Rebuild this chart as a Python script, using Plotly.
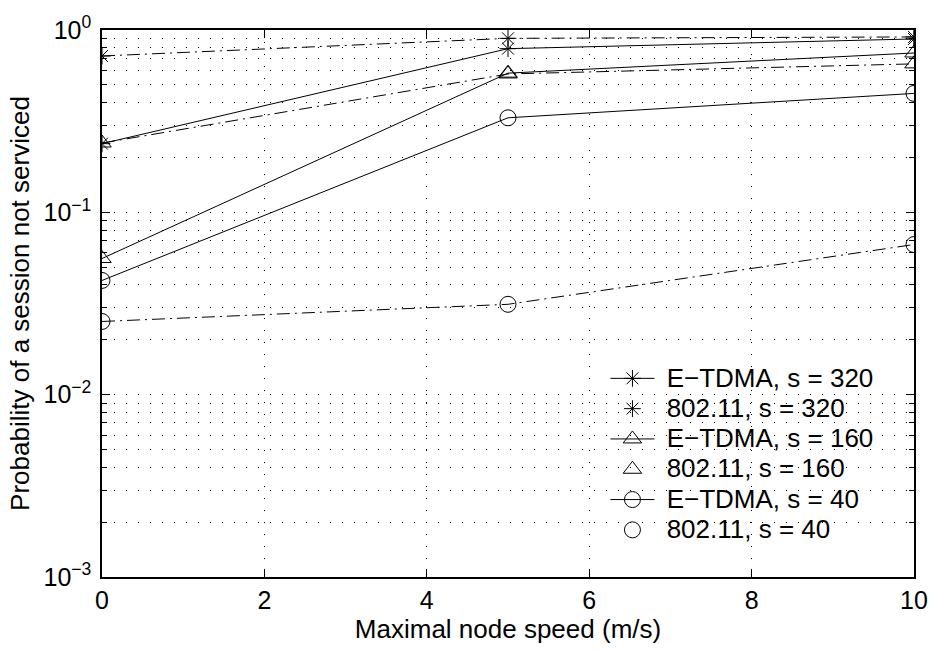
import plotly.graph_objects as go

# Maximal node speed (m/s)
speed = [0, 5, 10]

# Probability that a session is not serviced
etdma_320 = [0.238, 0.79, 0.893]
ieee_320 = [0.72, 0.90, 0.916]
etdma_160 = [0.0558, 0.58, 0.748]
ieee_160 = [0.24, 0.574, 0.652]
etdma_40 = [0.0423, 0.330, 0.449]
ieee_40 = [0.0252, 0.0313, 0.0666]

series_names = ["E−TDMA, s = 320", "802.11, s = 320",
                "E−TDMA, s = 160", "802.11, s = 160",
                "E−TDMA, s = 40", "802.11, s = 40"]
series_values = [etdma_320, ieee_320, etdma_160, ieee_160, etdma_40, ieee_40]

y_tick_vals = [1e-3, 1e-2, 1e-1, 1]
y_tick_text = ["10<sup>−3</sup>", "10<sup>−2</sup>", "10<sup>−1</sup>", "10<sup>0</sup>"]
y_minor_vals = [m * 10.0 ** e for e in (-3, -2, -1) for m in range(2, 10)]
x_tick_vals = [0, 2, 4, 6, 8, 10]

FONT = "Liberation Sans, Arial, Helvetica, sans-serif"
symbols = ["asterisk-open", "asterisk-open", "triangle-up-open", "triangle-up-open",
           "circle-open", "circle-open"]
sizes = [14, 14, 16, 16, 16, 16]
DASHDOT = "13px,5px,2px,5px"


def legend_label(name):
    # larger glyphs than the legend row spacing implies, with a small lead gap
    return '<span style="font-size:26px">\u00a0' + name + "</span>"


fig = go.Figure()
for i, (name, vals) in enumerate(zip(series_names, series_values)):
    is_ieee = name.startswith("802.11")
    marker = dict(symbol=symbols[i], size=sizes[i], color="black",
                  line=dict(color="black", width=1))
    fig.add_trace(go.Scatter(
        x=speed, y=vals, mode="lines+markers", name=legend_label(name),
        line=dict(color="black", width=1, dash=DASHDOT if is_ieee else "solid"),
        marker=marker, showlegend=not is_ieee, legendgroup=name,
        legendrank=1000 + i,
    ))
    if is_ieee:
        # legend key for the dash-dot series shows only its marker
        fig.add_trace(go.Scatter(
            x=[None], y=[None], mode="markers", name=legend_label(name),
            marker=marker, legendgroup=name, showlegend=True,
            legendrank=1000 + i,
        ))

axis_common = dict(
    showline=True, linecolor="black", linewidth=1.5, mirror="allticks",
    ticks="inside", tickcolor="black", tickwidth=1,
    showgrid=True, gridcolor="black", gridwidth=1, griddash="1px,11px",
    zeroline=False,
    tickfont=dict(family=FONT, size=25, color="black"),
)

fig.update_xaxes(
    range=[0, 10], tickvals=x_tick_vals, ticklen=8,
    title=dict(text="Maximal node speed (m/s)",
               font=dict(family=FONT, size=26, color="black"), standoff=2),
    **axis_common,
)
fig.update_yaxes(
    type="log", range=[-3, 0], tickvals=y_tick_vals, ticktext=y_tick_text, ticklen=8,
    ticklabelstandoff=4,
    minor=dict(tickvals=y_minor_vals, ticks="inside", ticklen=5, tickcolor="black",
               showgrid=True, gridcolor="black", gridwidth=1, griddash="1px,11px"),
    title=dict(text="Probability of a session not serviced",
               font=dict(family=FONT, size=26, color="black"), standoff=6),
    **axis_common,
)

fig.update_layout(
    width=940, height=650,
    margin=dict(l=102, r=19, t=29, b=73),
    paper_bgcolor="white", plot_bgcolor="white",
    font=dict(family=FONT, size=24, color="black"),
    legend=dict(x=0.62, y=0.40, xanchor="left", yanchor="top",
                bgcolor="rgba(0,0,0,0)", borderwidth=0,
                font=dict(family=FONT, size=21, color="black"),
                itemwidth=44, tracegroupgap=0),
)

fig.write_html("out.html")
